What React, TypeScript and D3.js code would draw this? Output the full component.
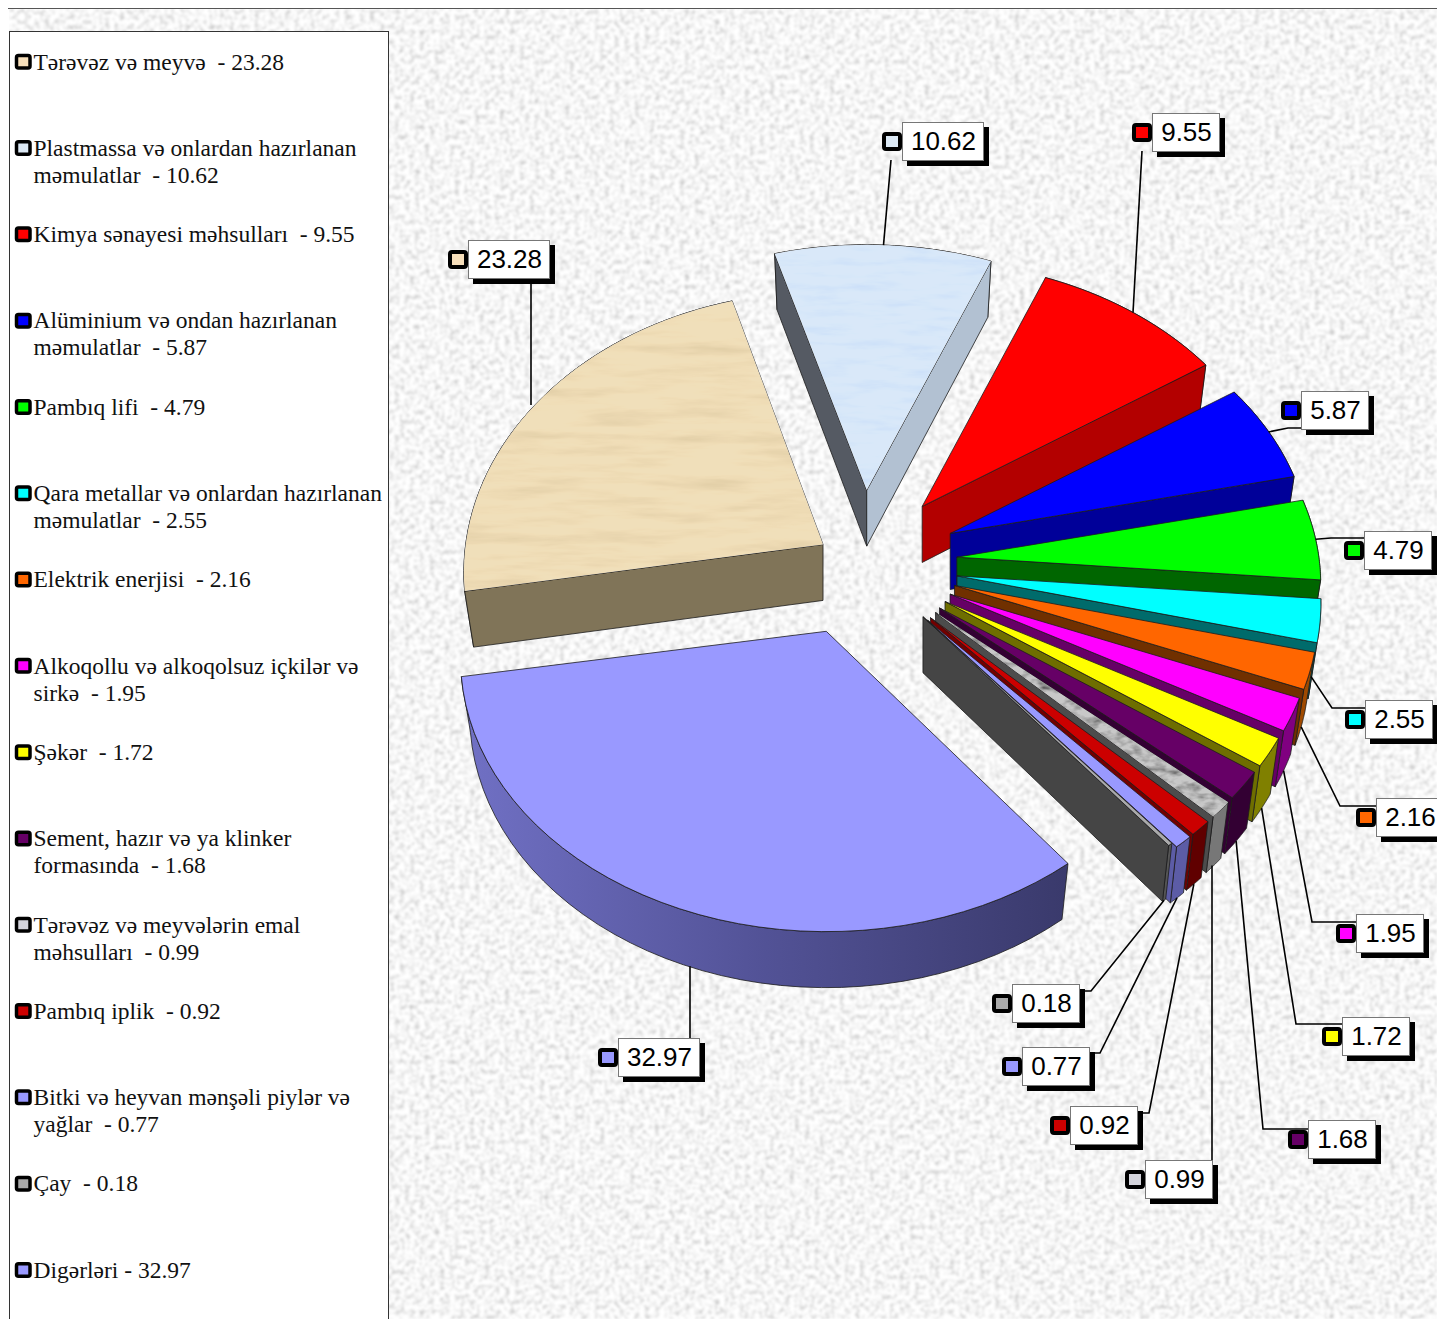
import React from "react";
import * as d3 from "d3";

// ---- data ----
const legendLines = [
  ["Tərəvəz və meyvə  - 23.28"],
  ["Plastmassa və onlardan hazırlanan", "məmulatlar  - 10.62"],
  ["Kimya sənayesi məhsulları  - 9.55"],
  ["Alüminium və ondan hazırlanan", "məmulatlar  - 5.87"],
  ["Pambıq lifi  - 4.79"],
  ["Qara metallar və onlardan hazırlanan", "məmulatlar  - 2.55"],
  ["Elektrik enerjisi  - 2.16"],
  ["Alkoqollu və alkoqolsuz içkilər və", "sirkə  - 1.95"],
  ["Şəkər  - 1.72"],
  ["Sement, hazır və ya klinker", "formasında  - 1.68"],
  ["Tərəvəz və meyvələrin emal", "məhsulları  - 0.99"],
  ["Pambıq iplik  - 0.92"],
  ["Bitki və heyvan mənşəli piylər və", "yağlar  - 0.77"],
  ["Çay  - 0.18"],
  ["Digərləri - 32.97"],
];
const values = [23.28, 10.62, 9.55, 5.87, 4.79, 2.55, 2.16, 1.95, 1.72, 1.68, 0.99, 0.92, 0.77, 0.18, 32.97];
const valueLabels = ["23.28", "10.62", "9.55", "5.87", "4.79", "2.55", "2.16", "1.95", "1.72", "1.68", "0.99", "0.92", "0.77", "0.18", "32.97"];

// ---- styles ----
const topColors = ["#f0dfba", "#d9e8f9", "#ff0000", "#0000ff", "#00ff00", "#00ffff", "#ff6600", "#ff00ff", "#ffff00", "#660066", "#c8c8c8", "#cc0000", "#9999ff", "#aaaaaa", "#9999ff"];
const swatchColors = ["#f7dfbb", "#dce9f5", "#ff0000", "#0000ff", "#00ff00", "#00ffff", "#ff6600", "#ff00ff", "#ffff00", "#660066", "#d4d4dc", "#cc0000", "#9999ff", "#aaaaaa", "#9999ff"];
const wallColors = ["#807458", "#b2c1d2", "#b30000", "#000099", "#006600", "#006b6b", "#703000", "#660066", "#6e6e00", "#330033", "#4c4c4c", "#730000", "#5c5ca6", "#454545", "url(#digerWall)"];
const outerColors = ["#807458", "#b2c1d2", "#b30000", "#000099", "#006600", "#006b6b", "#a04a00", "#800080", "#808000", "#330033", "#777777", "#600000", "#5c5ca6", "#555555", "url(#digerWall)"];
const sliceFilters: (string | null)[] = ["url(#sand)", "url(#ice)", null, null, null, null, null, null, null, null, "url(#streak)", null, null, null, null];

// ---- layout ----
const W = 1437, H = 1319;
const center = [885, 563];
const explode = 73;
const rx = 362, ry = 270, persp = 0.101;
const depth = 56, shrinkX = 0.975;
const apexNudge = [[0, 20], [-22, 0], [-9, 0], [-2, -1], [-1, -1], [0, 1], [0, 0], [-1, 0], [-2, 0], [-3, 0], [-3, 0], [-5, 2], [-5, 2], [-8, -3], [-33, 0]];
const sliceScaleX = [0.987, 1, 0.993, 0.994, 1, 1, 1, 1, 1, 1, 1, 1, 1, 1, 1.005];
const sliceScaleY = [1.03, 1, 1, 1, 1, 1, 1, 1, 1, 1, 1, 1, 1, 1, 1];
const startTrimDeg = [0.5, 0, 0, 0, 0, 0, 0, 0, 0, 0, 0, 0, 0, 0, 1];
const endExtendDeg = [0, 0, 0, 0, 0, 0, 0, 0, 0, 0, 0, 0, 0, 0, 0.5];
const boxX = [468, 902, 1152, 1301, 1364, 1365, 1376, 1356, 1342, 1308, 1145, 1070, 1022, 1012, 618];
const boxY = [240, 122, 113, 391, 531, 700, 798, 914, 1017, 1120, 1160, 1106, 1047, 984, 1038];
const leaderEnd = [[531, 279], [891, 160], [1142, 151], [1301, 428], [1364, 538], [1365, 708], [1376, 806], [1356, 922], [1342, 1024], [1308, 1129], [1212, 1160], [1137, 1113], [1089, 1053], [1079, 991], [690, 1076]];
const leaderElbow: (number[] | null)[] = [null, null, null, [1288, 428], [1331, 538], [1332, 708], [1340, 806], [1312, 922], [1296, 1024], [1263, 1129], null, [1149, 1113], [1100, 1053], [1091, 991], null];
const legendStart = 62, legendStep = 86.3, legendLine = 27;

const project = (a: number) => {
  const u = Math.sin(a), v = -Math.cos(a), den = 1 - persp * v;
  return [(rx * u) / den, (ry * v) / den];
};

const rad = (deg: number) => (deg * Math.PI) / 180;
const arcs = d3.pie<number>().sort(null).startAngle(rad(-100)).endAngle(rad(260))(values);
const line = d3.line<number[]>().x((d) => d[0]).y((d) => d[1]);

const slices = arcs.map((d, i) => {
  const start = d.startAngle + rad(startTrimDeg[i]);
  const end = d.endAngle + rad(endExtendDeg[i]);
  const mid = (d.startAngle + d.endAngle) / 2;
  const ax = center[0] + explode * Math.sin(mid) + apexNudge[i][0];
  const ay = center[1] - explode * Math.cos(mid) + apexNudge[i][1];
  const sx = sliceScaleX[i], sy = sliceScaleY[i];
  const top = (a: number) => { const p = project(a); return [ax + p[0] * sx, ay + p[1] * sy]; };
  const bot = (a: number) => { const p = project(a); return [ax + p[0] * sx * shrinkX, ay + p[1] * sy + depth]; };
  const steps = d3.range(0, 41).map((k) => start + ((end - start) * k) / 40);
  const arcTop = steps.map(top), arcBot = steps.map(bot);
  const apexB = [ax, ay + depth];
  const topPath = line([[ax, ay], ...arcTop])! + "Z";
  const outerPath = line([...arcTop, ...[...arcBot].reverse()])! + "Z";
  const q = top(mid);
  const walls = [start, end].filter((a) => {
    const p = top(a);
    const dx = p[0] - ax, dy = p[1] - ay;
    let nx = -dy, ny = dx;
    if (nx * (q[0] - ax) + ny * (q[1] - ay) > 0) { nx = -nx; ny = -ny; }
    return ny > 0;
  }).map((a) => ({ a, path: line([[ax, ay], top(a), bot(a), apexB])! + "Z" }));
  const anchor = -Math.cos(mid) > 0 ? bot(mid) : top(mid);
  return { i, mid, ax, ay, start, topPath, outerPath, walls, anchor };
});

const plastLeftWall = "#555a63";

export default function App() {
  return (
    <svg width={W} height={H} style={{ position: "absolute", left: 0, top: 0, display: "block" }} xmlns="http://www.w3.org/2000/svg">
      <defs>
        <filter id="granite" x="0" y="0" width="100%" height="100%">
          <feTurbulence type="fractalNoise" baseFrequency="0.2" numOctaves={3} seed={4} />
          <feColorMatrix type="matrix" values="0.9 0 0 0 0.47  0.9 0 0 0 0.47  0.9 0 0 0 0.47  0 0 0 0 1" />
          <feGaussianBlur stdDeviation="0.9" />
        </filter>
        <filter id="sand" x="0" y="0" width="100%" height="100%">
          <feTurbulence type="fractalNoise" baseFrequency="0.012 0.09" numOctaves={4} seed={7} result="n" />
          <feColorMatrix in="n" type="matrix" values="0.3 0 0 0 0.85  0.32 0 0 0 0.82  0.4 0 0 0 0.76  0 0 0 0 1" result="g" />
          <feBlend in="SourceGraphic" in2="g" mode="multiply" result="b" />
          <feComposite in="b" in2="SourceAlpha" operator="in" />
        </filter>
        <filter id="ice" x="0" y="0" width="100%" height="100%">
          <feTurbulence type="fractalNoise" baseFrequency="0.02 0.12" numOctaves={4} seed={3} result="n" />
          <feColorMatrix in="n" type="matrix" values="0.3 0 0 0 0.84  0.2 0 0 0 0.9  0 0 0 0 1  0 0 0 0 1" result="g" />
          <feBlend in="SourceGraphic" in2="g" mode="multiply" result="b" />
          <feComposite in="b" in2="SourceAlpha" operator="in" />
        </filter>
        <filter id="streak" x="0" y="0" width="100%" height="100%">
          <feTurbulence type="fractalNoise" baseFrequency="0.06 0.12" numOctaves={3} seed={9} result="n" />
          <feColorMatrix in="n" type="matrix" values="1.8 0 0 0 -0.05  1.8 0 0 0 -0.05  1.8 0 0 0 -0.05  0 0 0 0 1" result="g" />
          <feBlend in="SourceGraphic" in2="g" mode="multiply" result="b" />
          <feComposite in="b" in2="SourceAlpha" operator="in" />
        </filter>
        <linearGradient id="digerWall" gradientUnits="userSpaceOnUse" x1="467" y1="0" x2="1065" y2="0">
          <stop offset="0" stopColor="#7070c4" />
          <stop offset="0.5" stopColor="#525296" />
          <stop offset="1" stopColor="#3a3a6c" />
        </linearGradient>
      </defs>

      <rect width={W} height={H} fill="#ffffff" />
      <rect x={9} y={9} width={W - 9} height={H - 9} fill="#eeeeee" filter="url(#granite)" />
      <line x1={8} x2={W} y1={8.5} y2={8.5} stroke="#555" />

      {/* legend */}
      <rect x={9.5} y={31.5} width={379} height={H} fill="#fff" stroke="#333" />
      {legendLines.map((ls, i) => {
        const y = legendStart + legendStep * i;
        return (
          <g key={i}>
            <rect x={16.5} y={y - 6.5} width={13.5} height={12.5} rx={2} fill={swatchColors[i]} stroke="#000" strokeWidth={3.5} />
            {ls.map((t, j) => (
              <text key={j} x={33.5} y={y + 7.5 + j * legendLine} fontFamily="'Liberation Serif', serif" fontSize={23.5} fill="#111" style={{ whiteSpace: "pre" }}>{t}</text>
            ))}
          </g>
        );
      })}

      {/* pie */}
      {slices.map((s) => (
        <g key={s.i} stroke="#1c1c1c" strokeWidth={0.8} strokeLinejoin="round">
          <path d={s.outerPath} fill={outerColors[s.i]} />
          {s.walls.map((w, k) => (
            <path key={k} d={w.path} fill={s.i === 1 && w.a === s.start ? plastLeftWall : wallColors[s.i]} />
          ))}
          <path d={s.topPath} fill={topColors[s.i]} />
          {sliceFilters[s.i] && <path d={s.topPath} fill={topColors[s.i]} filter={sliceFilters[s.i]!} stroke="none" />}
        </g>
      ))}

      {/* leaders and value labels */}
      {slices.map((s) => {
        const el = leaderElbow[s.i];
        const end = leaderEnd[s.i];
        const a = !el && Math.abs(s.anchor[0] - end[0]) < 6 ? [end[0], s.anchor[1]] : s.anchor;
        const pts = [a, ...(el ? [el] : []), end];
        return <path key={s.i} d={line(pts)!} fill="none" stroke="#000" strokeWidth={1.6} />;
      })}
      {valueLabels.map((t, i) => {
        const w = t.length > 4 ? 81 : 67, h = 38;
        return (
          <g key={i}>
            <rect x={boxX[i] + 5} y={boxY[i] + 5} width={w + 1} height={h + 1} fill="#000" />
            <rect x={boxX[i] + 0.5} y={boxY[i] + 0.5} width={w} height={h} fill="#fff" stroke="#777" />
            <rect x={boxX[i] - 18} y={boxY[i] + 12} width={16} height={15} rx={2} fill={swatchColors[i]} stroke="#000" strokeWidth={4} />
            <text x={boxX[i] + w / 2 + 1} y={boxY[i] + 28} textAnchor="middle" fontFamily="'Liberation Sans', Arial, sans-serif" fontSize={26} fill="#000">{t}</text>
          </g>
        );
      })}
    </svg>
  );
}
